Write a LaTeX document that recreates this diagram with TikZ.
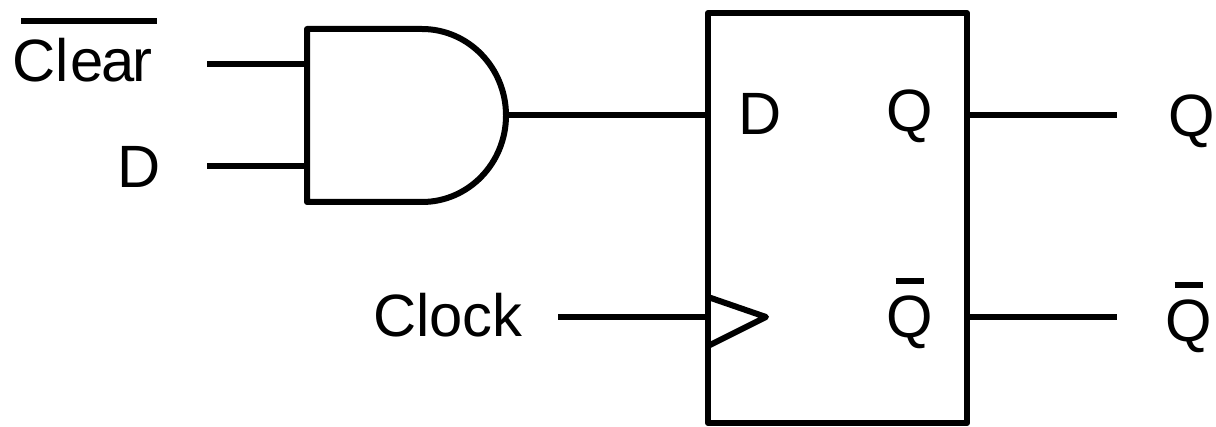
\documentclass[tikz,border=0pt]{standalone}
\usepackage{fontspec}
\setmainfont{Liberation Sans}
\usetikzlibrary{positioning}
\tikzset{every picture/.style={line cap=butt, line join=round}}
\tikzset{box/.style={draw, rectangle, line width=1.2mm, inner sep=0pt, outer sep=0pt,
  minimum width=5.18cm, minimum height=8.2cm}}
\tikzset{wire/.style={draw, line width=1.2mm}}
\tikzset{label/.style={font=\fontsize{34}{34}\selectfont, inner sep=0pt, anchor=base west}}

\begin{document}
\begin{tikzpicture}[x=0.02cm, y=0.02cm]
  \useasboundingbox (0,0) rectangle (1216,426);

  % Flip-flop
  \node[box] (ff) at (837.5,208) {};
  \coordinate (ffD)   at (708,311);
  \coordinate (ffClk) at (708,109);
  \coordinate (ffQ)   at (967,311);
  \coordinate (ffQn)  at (967,109);

  % AND gate
  \coordinate (gateA) at (307,362);
  \coordinate (gateB) at (307,260);
  \coordinate (gateY) at (506,311);
  \draw[wire] (422,397) -- (307,397) -- (307,224) -- (422,224)
              arc[start angle=-90, end angle=90, x radius=84, y radius=86.5];

  % Labels
  \node[label] (clear) at (12,344) {Cl\kern1pt e\kern-1.2pt a\kern-1.2pt r};
  \node[label] (dIn)   at (117,238) {D};
  \node[label] (clock) at (373,90) {Clock};
  \node[label] (dFf)   at (738,291) {D};
  \node[label] (qFf)   at (886,294) {Q};
  \node[label] (qnFf)  at (886,89) {Q};
  \node[label] (qOut)  at (1168,289) {Q};
  \node[label] (qnOut) at (1165,85) {Q};

  % Bars
  \draw[wire] (clear.north west)++(9,17) -- ++(136,0);
  \draw[wire] (qnFf.north)++(-14,14) -- ++(28,0);
  \draw[wire] (qnOut.north)++(-14,14) -- ++(28,0);

  % Inputs and outputs
  \coordinate (clearEnd) at (207,362);
  \coordinate (dEnd)     at (207,260);
  \coordinate (clkEnd)   at (558,109);
  \coordinate (qEnd)     at (1117,311);
  \coordinate (qnEnd)    at (1117,109);
  \draw[wire] (clearEnd) -- (gateA);
  \draw[wire] (dEnd) -- (gateB);
  \draw[wire] (gateY) -- (ffD);
  \draw[wire] (clkEnd) -- (ffClk);
  \draw[wire] (ffQ) -- (qEnd);
  \draw[wire] (ffQn) -- (qnEnd);

  % Clock triangle
  \draw[wire] (708,129) -- (766,109) -- (708,80);
\end{tikzpicture}
\end{document}
